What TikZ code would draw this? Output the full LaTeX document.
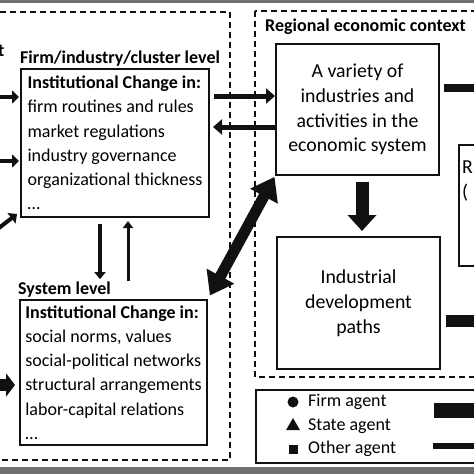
\documentclass[tikz,border=0pt]{standalone}
\usepackage{fontspec}
\setmainfont{Carlito}
\usepackage{tikz}
\usetikzlibrary{arrows.meta,positioning,shapes.geometric}
\definecolor{cfInk}{HTML}{111111}
\definecolor{cfBand}{HTML}{707070}
\newcommand{\figfont}{\fontsize{18}{24.2}\selectfont}
\newcommand{\ctxfont}{\fontsize{19.8}{24.8}\selectfont}
\tikzset{
  % Level box (list of institutional changes)
  lvlbox/.style={rectangle,draw=cfInk,line width=2pt,
    minimum width=188pt,minimum height=148pt,inner sep=3pt,
    align=left,font=\figfont},
  % Context box (centred text)
  ctxbox/.style={rectangle,draw=cfInk,line width=2pt,
    minimum width=163pt,minimum height=131pt,inner sep=3pt,
    align=center,font=\ctxfont},
  % Bold heading over a box
  hdr/.style={font=\figfont\bfseries,inner sep=0pt},
  % Plain text
  txt/.style={font=\figfont,inner sep=0pt},
  % Dashed region frame
  zone/.style={draw=cfInk,line width=2pt,dash pattern=on 6pt off 4pt},
  % Legend markers
  mkc/.style={circle,fill=cfInk,minimum size=11pt,inner sep=0pt},
  mkt/.style={regular polygon,regular polygon sides=3,fill=cfInk,
    minimum size=16pt,inner sep=0pt},
  mks/.style={rectangle,fill=cfInk,minimum size=9pt,inner sep=0pt},
  % Arrows
  arrs/.style={-{Triangle[length=7pt,width=13pt]},line width=4pt,color=cfInk},
  arrm/.style={-{Triangle[length=9pt,width=15pt]},line width=5pt,color=cfInk},
  arrv/.style={-{Triangle[length=7pt,width=11pt]},line width=4.5pt,color=cfInk},
  arrv2/.style={-{Triangle[length=7pt,width=10pt]},line width=3pt,color=cfInk},
  arrbig/.style={{Triangle[length=22pt,width=30pt]}-{Triangle[length=22pt,width=30pt]},
    line width=11pt,color=cfInk},
  arrdn/.style={-{Triangle[length=16pt,width=28pt]},line width=13pt,color=cfInk},
  arrsys/.style={-{Triangle[length=9pt,width=23pt]},line width=12pt,color=cfInk},
  % Plain bars
  bar/.style={line width=#1,color=cfInk},
}
\begin{document}
\begin{tikzpicture}[x=1pt,y=-1pt]
  \useasboundingbox (0,0) rectangle (474,474);
  \clip (0,0) rectangle (474,474);
  \fill[cfBand] (0,0) rectangle (474,3);
  \fill[cfBand] (0,467) rectangle (474,474);

  % regions
  \draw[zone] (-10,12) rectangle (230,460);
  \draw[zone] (255,11) rectangle (490,377);

  % left column
  \node[hdr,anchor=base east] (tcut) at (4.5,56) {t};
  \node[hdr,anchor=base west] (flbl) at (20,63) {Firm/industry/cluster level};
  \node[lvlbox] (fbox) at (115,143)
    {\textbf{Institutional Change in:}\\firm routines and rules\\market regulations\\industry governance\\organizational thickness\\…};
  \node[hdr,anchor=base west] (slbl) at (18,294) {System level};
  \node[lvlbox,minimum width=187pt,minimum height=145pt] (sbox) at (113.5,372.5)
    {\textbf{Institutional Change in:}\\social norms, values\\social-political networks\\structural arrangements\\labor-capital relations\\…};

  % right column
  \node[hdr,anchor=base west] (rlbl) at (265,31) {Regional economic context};
  \node[ctxbox] (vbox) at (357.5,109.5)
    {A variety of\\industries and\\activities in the\\economic system};
  \node[ctxbox,minimum height=132pt] (ibox) at (358.5,303)
    {Industrial\\development\\paths};
  \node[rectangle,draw=cfInk,line width=2pt,anchor=north west,
    minimum width=60pt,minimum height=121pt] (rbox) at (458,144) {};
  \node[txt,font=\ctxfont,anchor=north west,align=left] (rtxt) at (462,161) {R\\(};

  % legend
  \node[rectangle,draw=cfInk,line width=2pt,anchor=north west,
    minimum width=260pt,minimum height=73pt] (lgd) at (255,389) {};
  \node[mkc] (m1) at (293,402) {};
  \node[mkt] (m2) at (293,426) {};
  \node[mks] (m3) at (293,449) {};
  \coordinate (lx) at (308,0);
  \node[txt,anchor=west] (l1) at (m1 -| lx) {Firm agent};
  \node[txt,anchor=west] (l2) at (m2 -| lx) {State agent};
  \node[txt,anchor=west] (l3) at (m3 -| lx) {Other agent};
  \coordinate (k1a) at (434,410);
  \coordinate (k1b) at (480,410);
  \coordinate (k2a) at (433,446);
  \coordinate (k2b) at (480,446);
  \draw[bar=15pt] (k1a) -- (k1b);
  \draw[bar=6pt] (k2a) -- (k2b);

  % inputs from the left
  \coordinate (lf1) at (-5,97);
  \coordinate (lf2) at (-5,161);
  \coordinate (lf3) at (-5,231);
  \coordinate (lf4) at (-5,385);
  \draw[arrs,shorten >=1pt] (lf1) -- (lf1 -| fbox.west);
  \draw[arrs,shorten >=1pt] (lf2) -- (lf2 -| fbox.west);
  \draw[arrs] (lf3) -- ([xshift=-3pt,yshift=4pt]fbox.south west);
  \draw[arrsys,shorten >=4pt] (lf4) -- (lf4 -| sbox.west);

  % firm level <-> variety
  \coordinate (h1) at (0,96);
  \coordinate (h2) at (0,127);
  \draw[arrm,shorten <=4pt] (fbox.east |- h1) -- (vbox.west |- h1);
  \draw[arrm,shorten >=3pt] (vbox.west |- h2) -- (fbox.east |- h2);

  % firm level <-> system level
  \coordinate (v1) at (100,0);
  \coordinate (v2) at (128,0);
  \draw[arrv,shorten <=6pt,shorten >=2pt] (fbox.south -| v1) -- (v1 |- slbl.north);
  \draw[arrv2,shorten >=3pt] (v2 |- slbl.north) -- (fbox.south -| v2);

  % system level <-> variety
  \draw[arrbig,shorten <=1pt,shorten >=4pt] (vbox.south west) -- (sbox.north east);

  % variety -> paths
  \coordinate (dn) at (362,0);
  \draw[arrdn,shorten <=6pt,shorten >=5pt] (vbox.south -| dn) -- (ibox.north -| dn);

  % outputs to the right
  \coordinate (o1) at (480,88);
  \coordinate (o2) at (480,321);
  \draw[bar=8pt,shorten <=4pt] (vbox.east |- o1) -- (o1);
  \draw[bar=12pt,shorten <=5pt] (ibox.east |- o2) -- (o2);
\end{tikzpicture}
\end{document}
